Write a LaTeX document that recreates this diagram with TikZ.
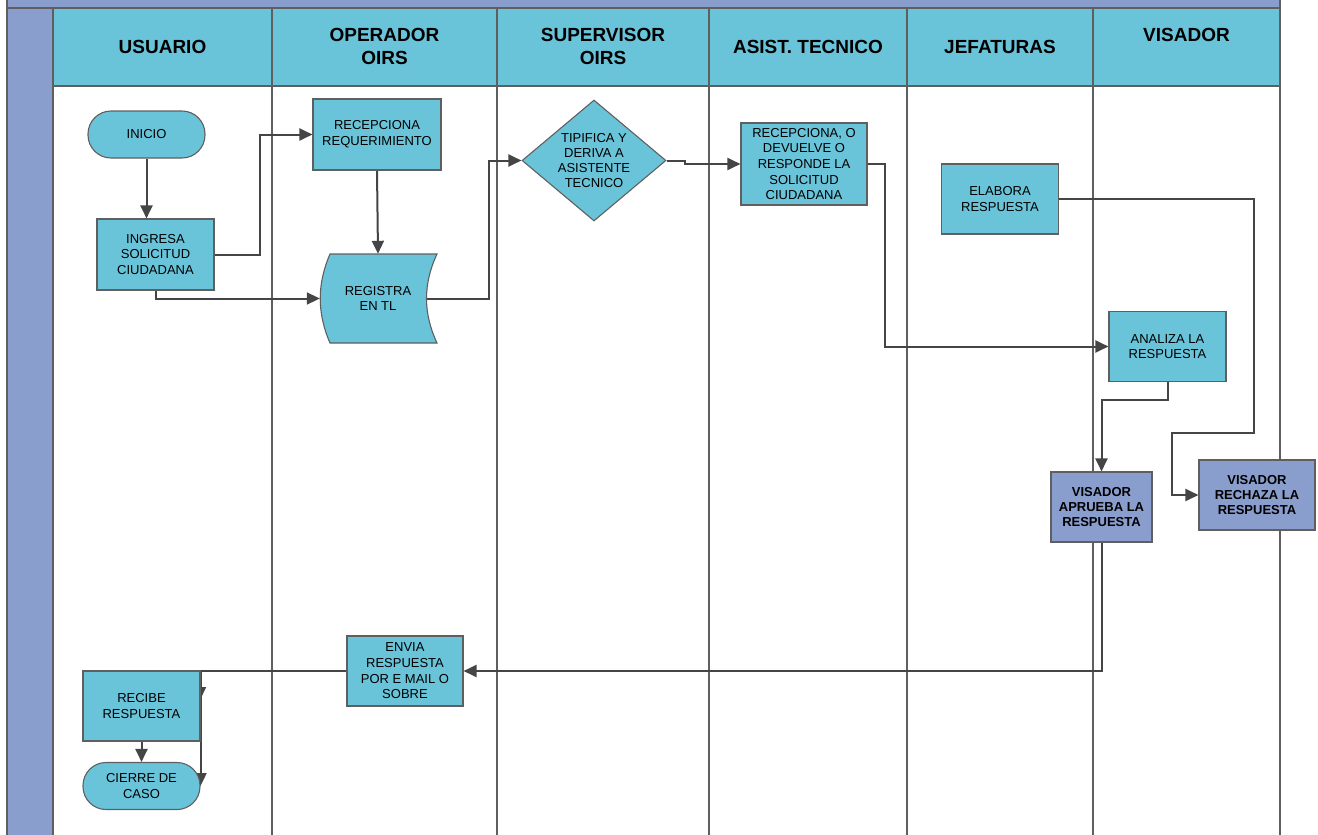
\documentclass[tikz,border=0pt]{standalone}
\usepackage{fontspec}
\setmainfont{Liberation Sans}
\usetikzlibrary{arrows.meta,shapes.geometric,backgrounds}

\definecolor{laneblue}{HTML}{69C4DA}
\definecolor{lanepurple}{HTML}{8A9ECE}
\definecolor{linegray}{HTML}{454545}
\definecolor{boxgray}{HTML}{5F5F5F}

\tikzset{
  proc/.style={draw=boxgray, line width=1.1, fill=laneblue, minimum width=117, minimum height=71,
    align=center, inner sep=1, font=\fontsize{13}{15.7}\selectfont},
  visbox/.style={proc, fill=lanepurple, font=\fontsize{13}{15.2}\selectfont\bfseries},
  term/.style={proc, rounded corners=23, minimum height=47},
  decide/.style={diamond, draw=boxgray, line width=1.1, fill=laneblue, aspect=1.2, inner sep=0,
    minimum width=144, minimum height=121, align=center, font=\fontsize{13}{15.3}\selectfont},
  flow/.style={draw=linegray, line width=2, -{Triangle[length=13,width=12]}},
  lane/.style={draw=boxgray, line width=1.3},
  head/.style={align=center, font=\fontsize{19}{23}\selectfont\bfseries},
}

\begin{document}
\begin{tikzpicture}[x=1pt,y=1pt,yscale=-1]
  \useasboundingbox (0,0) rectangle (1318,835);
  \begin{scope}[on background layer]
    \fill[lanepurple] (7,0) rectangle (1280,8);
    \fill[lanepurple] (7,8) rectangle (53,835);
    \fill[laneblue] (53,8) rectangle (1280,86);
    \draw[lane] (7,0) -- (7,835);
    \draw[lane] (7,8) -- (1280,8);
    \draw[lane] (53,86) -- (1280,86);
    \foreach \x in {53,272,497,709,907,1093,1280}
      \draw[lane] (\x,8) -- (\x,835);
    \draw[lane] (1280,0) -- (1280,8);
  \end{scope}

  % headers
  \node[head] (hUsuario) at (162.5,47) {USUARIO};
  \node[head] (hOperador) at (384.5,46.5) {OPERADOR\\OIRS};
  \node[head] (hSupervisor) at (603,46.5) {SUPERVISOR\\OIRS};
  \node[head] (hAsist) at (808,47) {ASIST. TECNICO};
  \node[head] (hJefaturas) at (1000,47) {JEFATURAS};
  \node[head] (hVisador) at (1186.5,35) {VISADOR};

  % steps
  \node[term] (inicio) at (146.5,134.5) {INICIO};
  \node[proc] (ingresa) at (155.5,254.5) {INGRESA\\SOLICITUD\\CIUDADANA};
  \node[proc, minimum width=128] (recepciona) at (377,134.5) {RECEPCIONA\\REQUERIMIENTO};
  \filldraw[draw=boxgray, line width=1.1, fill=laneblue] (330,254) -- (437,254)
    .. controls (423,284) and (423,313) .. (437,343) -- (330,343)
    .. controls (317,313) and (317,284) .. (330,254) -- cycle;
  \node[align=center, font=\fontsize{13}{15.7}\selectfont, minimum width=116, minimum height=89]
    (registra) at (378,298.5) {REGISTRA\\EN TL};
  \node[decide] (tipifica) at (594,160.5) {TIPIFICA Y\\DERIVA A\\ASISTENTE\\TECNICO};
  \node[proc, minimum width=126, minimum height=82] (asist) at (804,164)
    {RECEPCIONA, O\\DEVUELVE O\\RESPONDE LA\\SOLICITUD\\CIUDADANA};
  \node[proc, minimum height=70] (elabora) at (1000,199) {ELABORA\\RESPUESTA};
  \node[proc, minimum height=70] (analiza) at (1167.5,346.5) {ANALIZA LA\\RESPUESTA};
  \node[visbox, minimum width=101, minimum height=70] (aprueba) at (1101.5,507) {VISADOR\\APRUEBA LA\\RESPUESTA};
  \node[visbox, minimum width=116, minimum height=70] (rechaza) at (1257,495) {VISADOR\\RECHAZA LA\\RESPUESTA};
  \node[proc, minimum width=116, minimum height=70] (envia) at (405,671) {ENVIA\\RESPUESTA\\POR E MAIL O\\SOBRE};
  \node[proc, minimum height=70] (recibe) at (141.5,706) {RECIBE\\RESPUESTA};
  \node[term] (cierre) at (141.5,786) {CIERRE DE\\CASO};
  \coordinate (recibeIn) at (200,700);

  % connectors
  \begin{scope}[on background layer]
    \draw[flow] (inicio.south) -- (inicio.south |- ingresa.north);
    \draw[flow] (ingresa.east) -- ++(45,0) |- (recepciona.west);
    \draw[flow] (ingresa.south) |- (registra.west);
    \draw[flow] (recepciona.south) -- (registra.north);
    \draw[flow] (registra.center) -- ++(111,0) |- (tipifica.west);
    \draw[flow] (tipifica.east) -- ++(18,0) -- ++(0,3.5) -- (asist.west);
    \draw[flow] (asist.east) -- ++(17,0) |- (analiza.west);
    \draw[flow] (elabora.east) -- ++(195,0) -- ++(0,234) -- ++(-82,0) |- (rechaza.west);
    \draw[flow] (analiza.south) -- ++(0,17.5) -| (aprueba.north);
    \draw[flow] (aprueba.south) |- (envia.east);
    \draw[flow] (envia.west) -| (cierre.east);
    \draw[flow] (envia.west) -| (recibeIn);
    \draw[flow] (recibe) -- (cierre);
  \end{scope}
\end{tikzpicture}
\end{document}
